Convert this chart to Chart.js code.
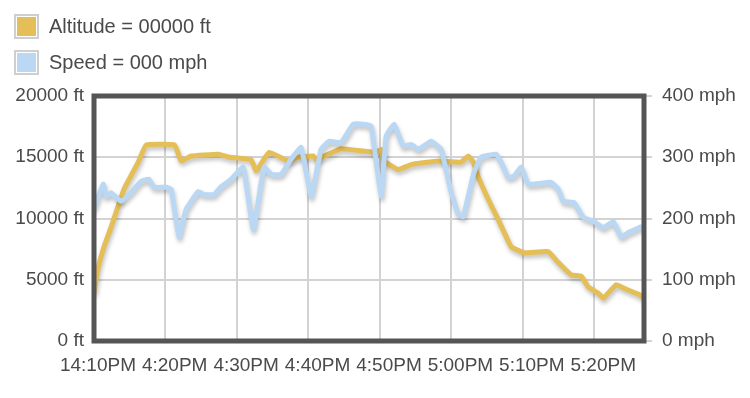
<!DOCTYPE html>
<html>
<head>
<meta charset="utf-8">
<script src="https://cdn.jsdelivr.net/npm/chart.js@4"></script>
<style>
  html, body { margin: 0; padding: 0; background: #fff; }
  #wrap { position: relative; width: 750px; height: 398px; }
  #legend { position: absolute; left: 14px; top: 13px; font: 20px 'Liberation Sans', Arial, sans-serif; color: #4a4a4a; }
  .item { display: flex; align-items: center; height: 27px; margin-bottom: 9px; }
  .box { width: 21px; height: 21px; border: 2px solid #cfcfcf; outline: 1px solid #fff; outline-offset: -3px; margin-right: 10px; }
</style>
</head>
<body>
<div id="wrap">
  <canvas id="flightChart" width="750" height="398"></canvas>
  <div id="legend"></div>
</div>
<script>
// Altitude / speed over the flight (minutes after 4:10 PM).

const altitudeColor = '#E4BE57';
const speedColor = '#BAD7F3';

const tickMinutes = [0, 10, 20, 30, 40, 50, 60, 70];
const tickLabels = ['14:10PM', '4:20PM', '4:30PM', '4:40PM', '4:50PM', '5:00PM', '5:10PM', '5:20PM'];

const legendLabels = ['Altitude = 00000 ft', 'Speed = 000 mph'];

const altMinutes = [0, 0.6, 1.4, 2.4, 4.2, 6.2, 7.3, 11.3, 12.2, 13.6, 17.4, 19.0, 22.0, 22.7, 24.5, 27.2, 28.6, 30.7, 31.1, 32.8,
  34.6, 37.8, 39.5, 40.2, 40.6, 42.6, 44.4, 48.2, 51.4, 52.4, 53.1, 53.8, 55.2, 56.6, 57.4, 58.4, 60.2, 63.6, 65.0, 66.8,
  68.2, 69.2, 70.6, 71.3, 73.1, 74.2, 76.3, 77];
const altValues = [4000, 6000, 7700, 9300, 12400, 14600, 16000, 16000, 14700, 15100, 15250, 15000, 14800, 13900, 15400, 14700, 15000, 15100, 14800, 15250,
  15700, 15500, 15400, 15650, 14700, 14000, 14400, 14700, 14600, 15100, 14600, 13400, 11560, 9900, 8900, 7700, 7200, 7300, 6400, 5400,
  5300, 4400, 3900, 3500, 4600, 4300, 3800, 3500];

const speedMinutes = [0, 1.3, 1.7, 2.4, 3.8, 4.9, 6.6, 7.7, 8.4, 10.1, 10.8, 11.9, 12.9, 14.6, 15.4, 16.8, 17.8, 19.2, 20.9, 22.3,
  23.8, 24.8, 26.2, 27.6, 29.0, 30.4, 31.8, 32.9, 34.6, 36.3, 37.7, 38.8, 40.2, 40.9, 42.0, 43.3, 44.4, 45.4, 47.2, 48.6,
  50.0, 51.0, 51.7, 53.2, 54.2, 56.3, 57.0, 58.0, 58.8, 59.8, 60.8, 64.0, 65.0, 65.7, 67.2, 68.5, 70.0, 71.3, 72.7, 73.8,
  74.8, 76.3, 77];
const speedValues = [218, 256, 236, 242, 228, 239, 261, 264, 251, 251, 248, 170, 215, 244, 239, 239, 252, 264, 284, 182,
  284, 272, 272, 297, 316, 236, 313, 326, 324, 354, 354, 351, 236, 334, 354, 318, 321, 313, 326, 313,
  243, 207, 203, 275, 300, 305, 292, 267, 269, 284, 256, 259, 248, 228, 226, 202, 195, 185, 195, 170,
  177, 185, 188];

// legende en HTML (deux lignes empilees)
const legend = document.getElementById('legend');
[altitudeColor, speedColor].forEach((c, i) => {
  const row = document.createElement('div');
  row.className = 'item';
  row.innerHTML = `<span class="box" style="background:${c}"></span><span>${legendLabels[i]}</span>`;
  legend.appendChild(row);
});

const font = { family: "'Liberation Sans', Arial, sans-serif", size: 19 };
const gridColor = '#d3d3d3';
const frameColor = '#555555';

const lineShadow = {
  id: 'lineShadow',
  beforeDatasetDraw(chart) {
    const c = chart.ctx;
    c.save();
    c.shadowColor = 'rgba(0,0,0,0.25)';
    c.shadowBlur = 4;
    c.shadowOffsetX = 1;
    c.shadowOffsetY = 3;
  },
  afterDatasetDraw(chart) {
    chart.ctx.restore();
  },
};

const frame = {
  id: 'frame',
  afterDraw(chart) {
    const { ctx, chartArea: a } = chart;
    ctx.save();
    ctx.strokeStyle = frameColor;
    ctx.lineWidth = 5;
    ctx.strokeRect(a.left, a.top, a.right - a.left, a.bottom - a.top);
    ctx.restore();
  },
};

new Chart(document.getElementById('flightChart'), {
  type: 'line',
  data: {
    datasets: [
      {
        label: legendLabels[1],
        data: speedMinutes.map((m, i) => ({ x: m, y: speedValues[i] })),
        yAxisID: 'y2',
        borderColor: speedColor,
        borderWidth: 5,
        order: 0,
      },
      {
        label: legendLabels[0],
        data: altMinutes.map((m, i) => ({ x: m, y: altValues[i] })),
        yAxisID: 'y',
        borderColor: altitudeColor,
        borderWidth: 5,
        order: 1,
      },
    ],
  },
  options: {
    responsive: false,
    animation: false,
    layout: { padding: { top: 96, left: 0, right: 0, bottom: 0 } },
    elements: {
      point: { radius: 0 },
      line: { tension: 0.1, borderJoinStyle: 'round', borderCapStyle: 'round', fill: false },
    },
    plugins: { legend: { display: false }, tooltip: { enabled: false } },
    scales: {
      x: {
        type: 'linear',
        min: 0,
        max: 77,
        afterBuildTicks: (s) => { s.ticks = tickMinutes.map((v) => ({ value: v })); },
        afterFit: (s) => { s.height = 57; },
        grid: { color: gridColor, lineWidth: 2, drawTicks: false },
        border: { display: false },
        ticks: {
          font, color: '#4a4a4a', padding: 13, maxRotation: 0, autoSkip: false,
          align: 'end', labelOffset: 42,
          callback: (v, i) => tickLabels[i],
        },
      },
      y: {
        position: 'left',
        min: 0,
        max: 20000,
        afterFit: (s) => { s.width = 94; },
        grid: { color: gridColor, lineWidth: 2, drawTicks: false },
        border: { display: false },
        ticks: { font, color: '#4a4a4a', padding: 10, stepSize: 5000, callback: (v) => v + ' ft' },
      },
      y2: {
        position: 'right',
        min: 0,
        max: 400,
        afterFit: (s) => { s.width = 106; },
        grid: { color: gridColor, lineWidth: 2, drawOnChartArea: false, tickLength: 8 },
        border: { display: false },
        ticks: { font, color: '#4a4a4a', padding: 10, stepSize: 100, callback: (v) => v + ' mph' },
      },
    },
  },
  plugins: [lineShadow, frame],
});
</script>
</body>
</html>
